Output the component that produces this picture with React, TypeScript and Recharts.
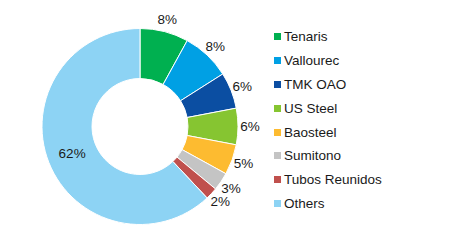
import { PieChart, Pie, Cell, Legend } from 'recharts';

const companies = ['Tenaris', 'Vallourec', 'TMK OAO', 'US Steel', 'Baosteel', 'Sumitono', 'Tubos Reunidos', 'Others'];
const shares = [8, 8, 6, 6, 5, 3, 2, 62];
const colors = ['#00B050', '#00A0E4', '#0B4EA2', '#86C531', '#FDBB30', '#C4C4C4', '#C0504D', '#8DD3F4'];

const data = companies.map((name, i) => ({ name, value: shares[i] }));

const RAD = Math.PI / 180;
const FONT = '"Liberation Sans", Arial, sans-serif';

function renderLabel({ cx, cy, midAngle, innerRadius, outerRadius, index }: any) {
  const isOthers = data[index].name === 'Others';
  const r = isOthers ? (innerRadius + outerRadius) / 2 : outerRadius + 12;
  const x = cx + r * Math.cos(-midAngle * RAD);
  const y = cy + r * Math.sin(-midAngle * RAD);
  return (
    <text x={x} y={y} fill="#1a1a1a" fontSize={13.5} fontFamily={FONT} textAnchor="middle" dominantBaseline="central">
      {`${data[index].value}%`}
    </text>
  );
}

function renderLegend() {
  return (
    <div style={{ fontFamily: FONT, fontSize: 13.5, color: '#1a1a1a' }}>
      {data.map((d, i) => (
        <div key={d.name} style={{ display: 'flex', alignItems: 'center', height: 23.8 }}>
          <span style={{ display: 'inline-block', width: 7, height: 7, background: colors[i], marginRight: 3 }} />
          <span>{d.name}</span>
        </div>
      ))}
    </div>
  );
}

export default function App() {
  return (
    <div style={{ position: 'absolute', left: 0, top: 0, width: 475, height: 249, background: '#fff' }}>
      <PieChart width={475} height={249} margin={{ top: 0, right: 0, bottom: 0, left: 0 }}>
        <Pie
          data={data}
          dataKey="value"
          nameKey="name"
          cx={140}
          cy={126.5}
          innerRadius={48}
          outerRadius={98}
          startAngle={90}
          endAngle={-270}
          stroke="#fff"
          strokeWidth={1}
          label={renderLabel}
          labelLine={false}
          isAnimationActive={false}
        >
          {data.map((d, i) => (
            <Cell key={d.name} fill={colors[i]} />
          ))}
        </Pie>
        <Legend
          content={renderLegend}
          layout="vertical"
          wrapperStyle={{ position: 'absolute', left: 274, top: 25, width: 180 }}
        />
      </PieChart>
    </div>
  );
}
